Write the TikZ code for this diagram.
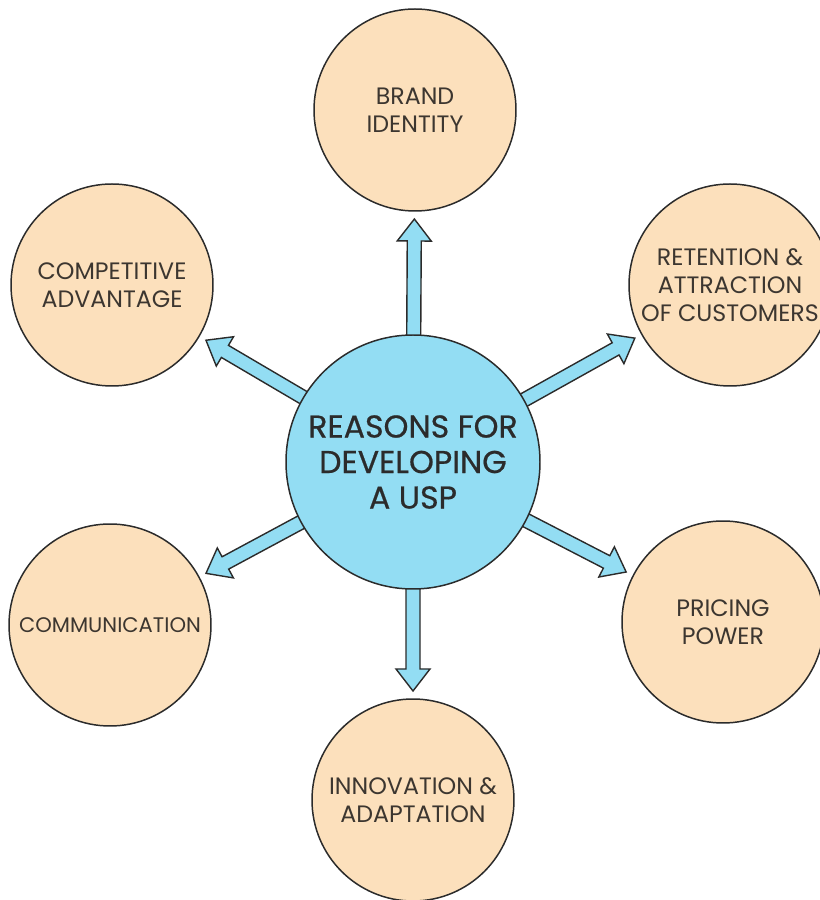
\documentclass[tikz,border=0pt]{standalone}
\usepackage{fontspec}
\setmainfont{Poppins}
\newfontfamily\hubfont{Poppins}[FakeBold=0.6]
\usepackage{tikz}
\usetikzlibrary{backgrounds}
\usetikzlibrary{calc}
\definecolor{ReasonPeach}{HTML}{FCE0BC}
\definecolor{ReasonBlue}{HTML}{93DDF3}
\definecolor{ReasonInk}{HTML}{2B2B2B}
\definecolor{ReasonText}{HTML}{3C3630}
\newcommand{\hubsize}{5.08cm}
\newcommand{\leafsize}{4.04cm}
\newcommand{\shaftw}{0.14cm}
\newcommand{\headw}{0.34cm}
\newcommand{\headl}{0.44cm}
\newcommand{\tipgap}{2.18cm}
\tikzset{
  leaf/.style={circle, draw=ReasonInk, fill=ReasonPeach, line width=0.85pt,
    minimum size=\leafsize, inner sep=0pt, align=center, text=ReasonText,
    font=\fontsize{13.5}{16}\selectfont},
  hub/.style={circle, draw=ReasonInk, fill=ReasonBlue, line width=0.85pt,
    minimum size=\hubsize, inner sep=0pt, align=center, text=ReasonInk,
    font=\hubfont\fontsize{18}{20.2}\selectfont},
  fatarrow/.style={draw=ReasonInk, fill=ReasonBlue, line width=0.8pt, line join=miter,
    to path={let \p1=($(\tikztotarget)!\tipgap!(\tikztostart)$),
                 \p2=($(\p1)!\headl!(\tikztostart)$) in
      ($(\tikztostart)!\shaftw!90:(\p1)$)
      -- ($(\p2)!\shaftw!90:(\p1)$)
      -- ($(\p2)!\headw!90:(\p1)$)
      -- (\p1)
      -- ($(\p2)!\headw!-90:(\p1)$)
      -- ($(\p2)!\shaftw!-90:(\p1)$)
      -- ($(\tikztostart)!\shaftw!-90:(\p1)$)
      -- cycle}}
}
\begin{document}
\begin{tikzpicture}
    \useasboundingbox (0,0) rectangle (16.4,18);
    % centre
    \node[hub] (usp) at (8.26,8.76) {REASONS FOR\\DEVELOPING\\A USP};
    % reasons
    \node[leaf] (brand) at (8.3,15.8) {BRAND\\IDENTITY};
    \node[leaf] (compete) at (2.24,12.3) {COMPETITIVE\\ADVANTAGE};
    \node[leaf] (retain) at (14.6,12.3) {RETENTION \&\\ATTRACTION\\OF CUSTOMERS};
    \node[leaf, font=\fontsize{12}{16}\selectfont] (comms) at (2.2,5.5) {COMMUNICATION};
    \node[leaf] (pricing) at (14.46,5.56) {PRICING\\POWER};
    \node[leaf] (innov) at (8.26,2.0) {INNOVATION \&\\ADAPTATION};

    \begin{scope}[on background layer]
      \foreach \leafname in {brand,compete,retain,comms,pricing,innov}
        \draw[fatarrow] (usp) to (\leafname);
    \end{scope}
\end{tikzpicture}
\end{document}
